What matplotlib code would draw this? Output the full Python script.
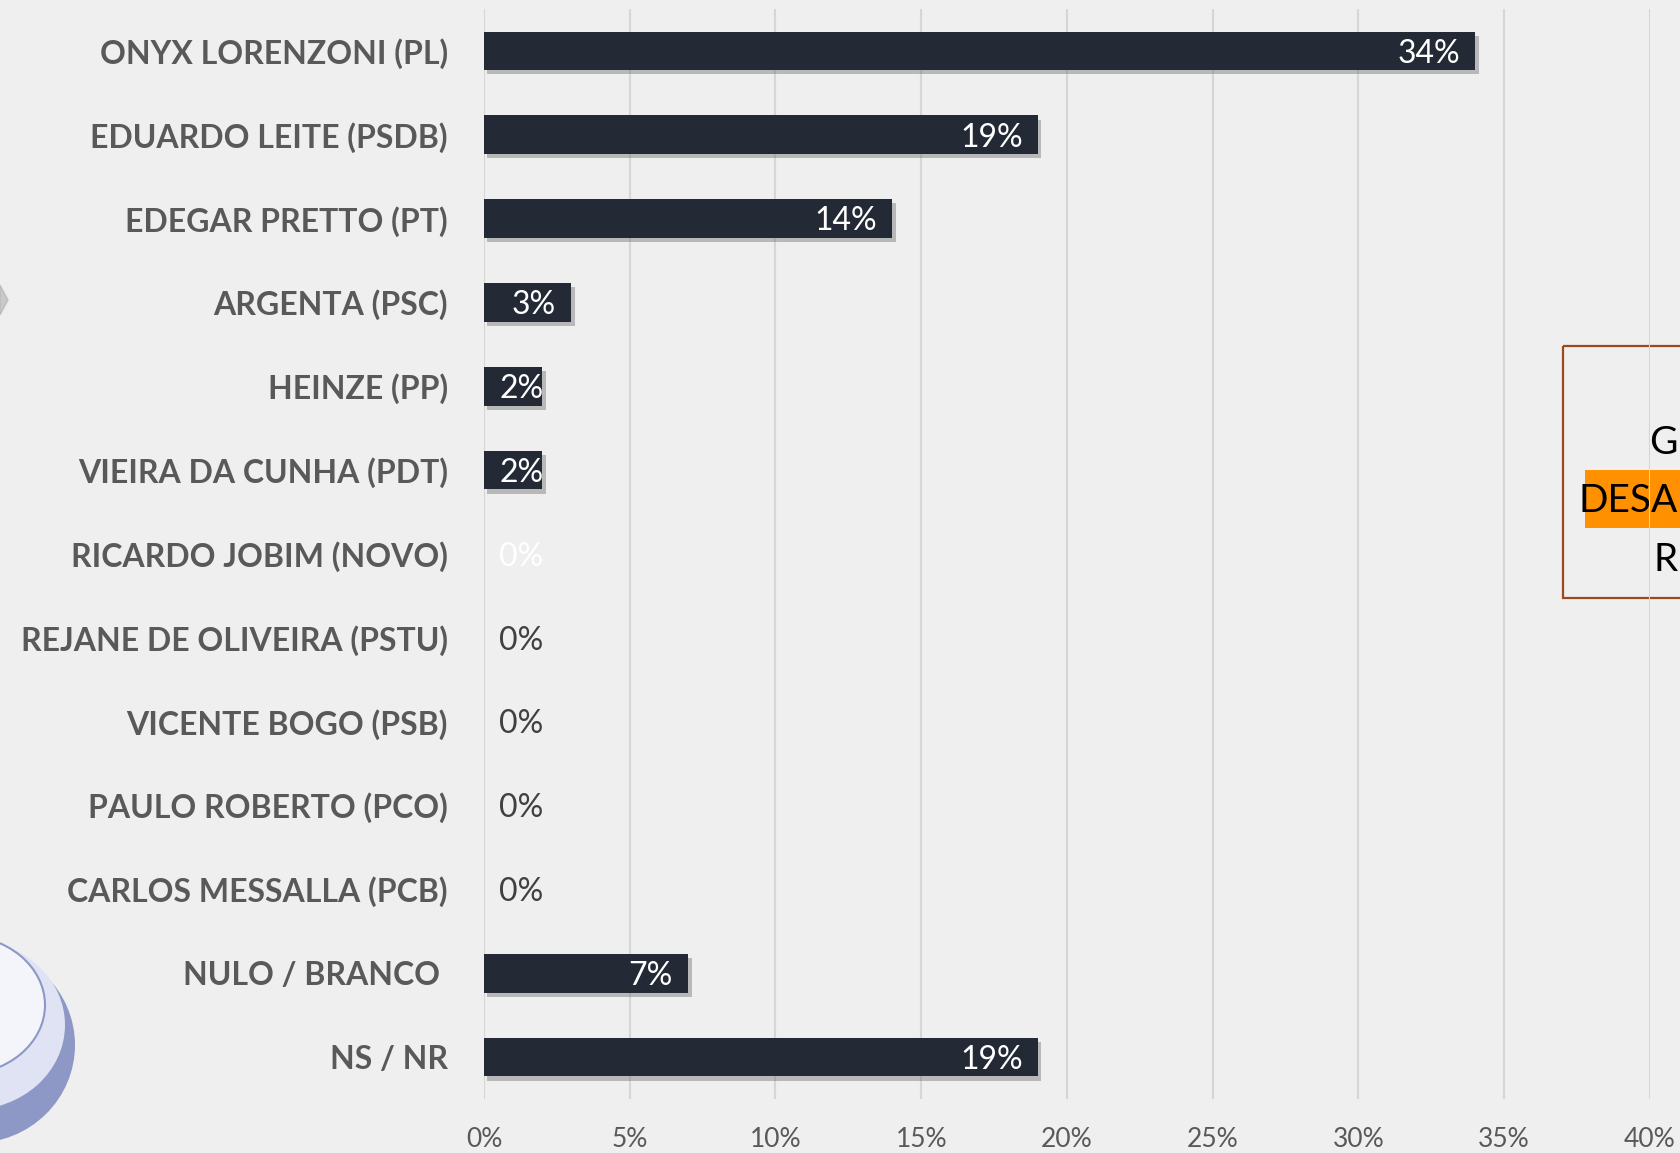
import matplotlib
matplotlib.use("Agg")
import matplotlib.pyplot as plt
import matplotlib.patheffects as pe
from matplotlib.patches import Ellipse, Rectangle, Polygon

categories = ["ONYX LORENZONI (PL)", "EDUARDO LEITE (PSDB)", "EDEGAR PRETTO (PT)",
              "ARGENTA (PSC)", "HEINZE (PP)", "VIEIRA DA CUNHA (PDT)",
              "RICARDO JOBIM (NOVO)", "REJANE DE OLIVEIRA (PSTU)", "VICENTE BOGO (PSB)",
              "PAULO ROBERTO (PCO)", "CARLOS MESSALLA (PCB)", "NULO / BRANCO ", "NS / NR"]
values = [34, 19, 14, 3, 2, 2, 0, 0, 0, 0, 0, 7, 19]
value_labels = ["34%", "19%", "14%", "3%", "2%", "2%", "0%", "0%", "0%", "0%", "0%", "7%", "19%"]
ticks = [0, 5, 10, 15, 20, 25, 30, 35, 40]
tick_labels = ["0%", "5%", "10%", "15%", "20%", "25%", "30%", "35%", "40%"]
box_lines = ["G", "DESA", "R"]

BG = "#efefef"
BAR = "#232a36"
TXT = "#595959"

fig = plt.figure(figsize=(16.81, 11.53), dpi=100, facecolor=BG)

# background decorations (logo disc, side box)
bgax = fig.add_axes([0, 0, 1, 1], zorder=-1)
bgax.set_xlim(0, 1681)
bgax.set_ylim(1153, 0)
bgax.axis("off")
bgax.add_patch(Polygon([[0, 285], [8, 300], [0, 315]], closed=True, color="#b0b0b0", alpha=0.6))
bgax.add_patch(Ellipse((-25, 1045), 200, 196, facecolor="#8e98c6", edgecolor="none"))
bgax.add_patch(Ellipse((-30, 1025), 190, 170, facecolor="#dfe3f4", edgecolor="none"))
bgax.add_patch(Ellipse((-40, 1005), 170, 140, facecolor="#f4f5fb", edgecolor="#8e98c6", lw=1.5))
bgax.add_patch(Rectangle((1563, 346), 200, 252, facecolor="none", edgecolor="#9a4a1c", lw=1.6))
bgax.add_patch(Rectangle((1585, 470), 100, 58, facecolor="#ff9000", edgecolor="none"))
bgax.text(1678, 443, box_lines[0], fontsize=28, family="Lato", color="black", ha="right", va="center")
bgax.text(1678, 501, box_lines[1], fontsize=28, family="Lato", color="black", ha="right", va="center")
bgax.text(1678, 560, box_lines[2], fontsize=28, family="Lato", color="black", ha="right", va="center")

ax = fig.add_axes([484 / 1681, 1 - 1099 / 1153, (1650 - 484) / 1681, (1099 - 9) / 1153])
ax.set_facecolor("none")
y = list(range(len(categories)))
bars = ax.barh(y, values, height=0.46, color=BAR, zorder=3)
for b in bars:
    b.set_path_effects([pe.SimplePatchShadow(offset=(2.5, -3), shadow_rgbFace="#666666", alpha=0.4),
                        pe.Normal()])

ax.set_xlim(0, 40)
ax.set_ylim(len(categories) - 0.5, -0.5)
ax.set_xticks(ticks)
ax.set_xticklabels(tick_labels)
ax.set_yticks(y)
ax.set_yticklabels(categories)
ax.xaxis.grid(True, color="#d6d6d6", lw=1.5, zorder=0)
ax.set_axisbelow(True)
for s in ax.spines.values():
    s.set_visible(False)
ax.tick_params(axis="both", length=0)
ax.tick_params(axis="y", pad=26)
ax.tick_params(axis="x", pad=20)
for t in ax.get_yticklabels():
    t.set_fontfamily("Lato")
    t.set_fontweight("bold")
    t.set_fontsize(23)
    t.set_color(TXT)
for t in ax.get_xticklabels():
    t.set_fontfamily("Lato")
    t.set_fontsize(19)
    t.set_color(TXT)

for i, (v, lab) in enumerate(zip(values, value_labels)):
    if v >= 3:
        ax.annotate(lab, (v, i), xytext=(-11, -2), textcoords="offset points",
                    ha="right", va="center", color="white", fontsize=23, family="Lato", zorder=5)
    else:
        col = "white" if (v > 0 or categories[i].startswith("RICARDO")) else "#404040"
        ax.annotate(lab, (0, i), xytext=(11, -2), textcoords="offset points",
                    ha="left", va="center", color=col, fontsize=23, family="Lato", zorder=5)

fig.savefig("out.png", dpi=100, facecolor=BG)
